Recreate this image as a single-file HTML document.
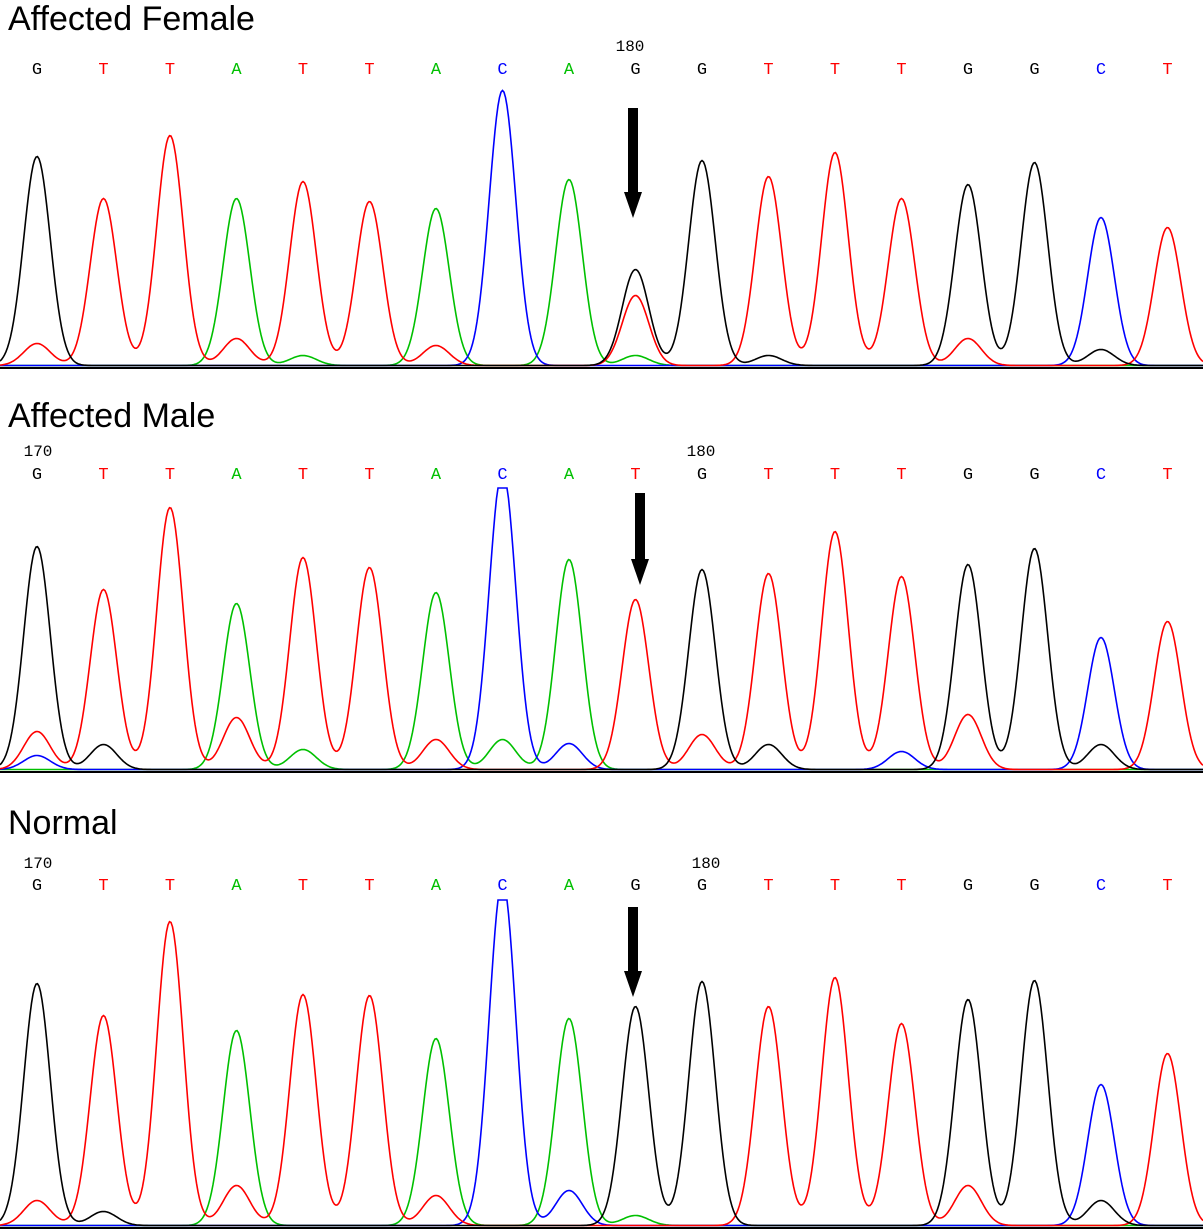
<!DOCTYPE html>
<html><head><meta charset="utf-8">
<style>
html,body{margin:0;padding:0;background:#fff;}
svg{display:block;}
.title{font-family:"Liberation Sans",sans-serif;font-size:34px;fill:#000;}
.base{font-family:"Liberation Mono",monospace;font-size:17px;}
.num{font-family:"Liberation Mono",monospace;font-size:16px;fill:#000;}
</style></head>
<body>
<svg id="chart" width="1203" height="1232" viewBox="0 0 1203 1232"></svg>
<script>
const bases = ["G","T","T","A","T","T","A","C","A","G","G","T","T","T","G","G","C","T"];
const calls2 = ["G","T","T","A","T","T","A","C","A","T","G","T","T","T","G","G","C","T"];
const heights1 = [209,167,230,167,184,164,157,275,186,96,205,189,213,167,181,203,126,138];
const heights2 = [223,180,262,166,212,202,177,300,210,170,200,196,238,193,205,221,132,148];
const heights3 = [242,210,304,195,231,230,187,345,207,219,244,219,248,202,226,245,141,172];
const minor1 = [["T",0,22],["T",3,27],["T",6,20],["T",9,70],["T",14,27],["G",16,16],["C",16,22],["A",4,10],["A",9,10],["G",11,10]];
const minor2 = [["T",0,38],["G",1,25],["T",3,52],["T",6,30],["A",7,30],["C",8,26],["T",10,35],["G",11,25],["T",14,55],["C",13,18],["G",16,25],["A",4,20],["C",0,14]];
const minor3 = [["T",0,25],["T",3,40],["T",6,30],["C",8,35],["T",14,40],["G",16,25],["G",1,14],["A",9,10]];
const colors = {G:"#000000",T:"#ff0000",A:"#00c000",C:"#0000ff"};
const panels = [
 {name:"affected-female",title:"Affected Female",titleY:30,letterY:74,baseline:367,clipTop:999,heights:heights1,minor:minor1,calls:bases,arrowX:633,arrowTop:108,arrowBot:218,labels:[["180",630,51]]},
 {name:"affected-male",title:"Affected Male",titleY:427,letterY:479,baseline:771,clipTop:283,heights:heights2,minor:minor2,calls:calls2,arrowX:640,arrowTop:493,arrowBot:585,labels:[["170",38,456],["180",701,456]]},
 {name:"normal",title:"Normal",titleY:834,letterY:890,baseline:1227,clipTop:327,heights:heights3,minor:minor3,calls:bases,arrowX:633,arrowTop:907,arrowBot:997,labels:[["170",38,868],["180",706,868]]}
];
const NS="http://www.w3.org/2000/svg";
const svg=document.getElementById("chart");
function xPos(i){return 37+i*66.5;}
function yPos(p,v){return p.baseline-Math.min(v,p.clipTop);}
function mk(tag,attrs){const e=document.createElementNS(NS,tag);for(const k in attrs)e.setAttribute(k,attrs[k]);return e;}
panels.forEach(p=>{
  const g=mk("g",{});
  
  
  svg.appendChild(g);
  const t=mk("text",{x:8,y:p.titleY,class:"title"});t.textContent=p.title;
  
  
  g.appendChild(t);
  p.labels.forEach(l=>{const n=mk("text",{x:l[1],y:l[2],class:"num","text-anchor":"middle"});n.textContent=l[0];
    
    
    g.appendChild(n);});
  p.calls.forEach((b,i)=>{const e=mk("text",{x:xPos(i),y:p.letterY,class:"base","text-anchor":"middle",fill:colors[b]});e.textContent=b;
    
    
    g.appendChild(e);});
  const peaks={G:[],T:[],A:[],C:[]};
  p.calls.forEach((b,i)=>peaks[b].push([i,p.heights[i]]));
  p.minor.forEach(m=>peaks[m[0]].push([m[1],m[2]]));
  const sigma=0.2;
  ["A","C","T","G"].forEach(ch=>{
    let d="";
    for(let px=0;px<=1203;px+=1.5){
      const u=(px-37)/66.5;
      let v=1.5;
      peaks[ch].forEach(pk=>{const z=(u-pk[0])/sigma;v+=pk[1]*Math.exp(-0.5*z*z);});
      d+=(d?"L":"M")+px.toFixed(1)+","+yPos(p,v).toFixed(1);
    }
    const path=mk("path",{d:d,fill:"none",stroke:colors[ch],"stroke-width":1.6});
    
    
    g.appendChild(path);
  });
  const bl=mk("line",{x1:0,x2:1203,y1:p.baseline+1,y2:p.baseline+1,stroke:"#000","stroke-width":2});
  
  
  g.appendChild(bl);
  const ax=p.arrowX, hh=26;
  const ar=mk("polygon",{points:`${ax-5},${p.arrowTop} ${ax+5},${p.arrowTop} ${ax+5},${p.arrowBot-hh} ${ax+9},${p.arrowBot-hh} ${ax},${p.arrowBot} ${ax-9},${p.arrowBot-hh} ${ax-5},${p.arrowBot-hh}`,fill:"#000"});
  
  
  g.appendChild(ar);
});
</script>
</body></html>
